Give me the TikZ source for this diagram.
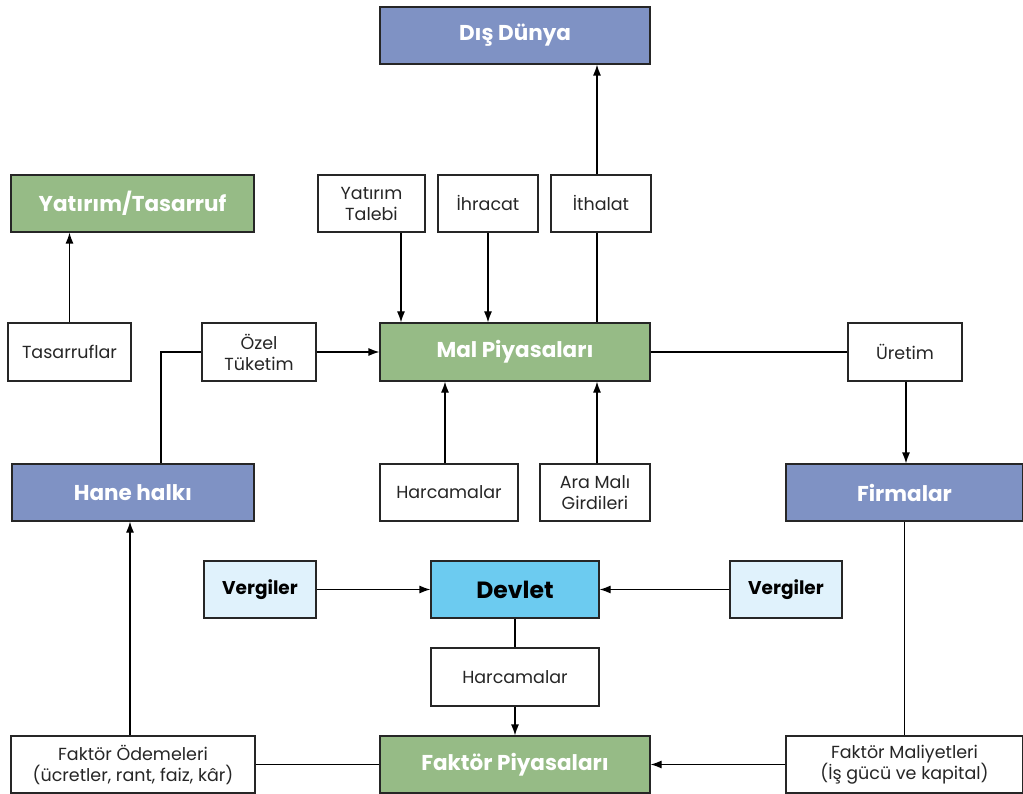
\documentclass[tikz,border=0pt]{standalone}
\usepackage{fontspec}
\setmainfont{Poppins}
\usetikzlibrary{arrows.meta,calc}
\definecolor{cblue}{RGB}{127,146,196}
\definecolor{cgreen}{RGB}{150,187,134}
\definecolor{cdev}{RGB}{108,203,240}
\definecolor{cverg}{RGB}{224,242,252}
\begin{document}
\begin{tikzpicture}[x=1pt,y=-1pt,
  base/.style={draw=black!85,line width=1.2pt,inner sep=2pt,align=center},
  wbox/.style={base,fill=white,font=\fontsize{17.5}{21}\selectfont,text=black!85},
  gbox/.style={base,fill=cgreen,text=white,font=\fontsize{21.5}{25}\selectfont\bfseries},
  bbox/.style={base,fill=cblue,text=white,font=\fontsize{21.5}{25}\selectfont\bfseries},
  vbox/.style={base,fill=cverg,text=black,font=\fontsize{18.5}{22}\selectfont\bfseries},
  dbox/.style={base,fill=cdev,text=black,font=\fontsize{23.5}{27}\selectfont\bfseries},
  sz/.style 2 args={minimum width=#1pt,minimum height=#2pt},
  conn/.style={line width=1.2pt,draw=black},
  arr/.style={conn,-{Latex[length=11pt,width=8pt]}}]
\useasboundingbox[fill=white] (0,0) rectangle (1023,794);
% nodes
\node[bbox,sz={270}{57}] (dis) at (515,35.5) {Dış Dünya};
\node[gbox,sz={243}{57}] (yat) at (132.5,203.5) {Yatırım/Tasarruf};
\node[wbox,sz={107}{57}] (ytal) at (371.5,203.5) {Yatırım\\Talebi};
\node[wbox,sz={100}{57}] (ihr) at (488,203.5) {İhracat};
\node[wbox,sz={100}{57}] (ith) at (601,203.5) {İthalat};
\node[wbox,sz={123}{58}] (tas) at (69.5,352) {Tasarruflar};
\node[wbox,sz={114}{58}] (ozel) at (259,352) {Özel\\Tüketim};
\node[gbox,sz={270}{58}] (mal) at (515,352) {Mal Piyasaları};
\node[wbox,sz={114}{58}] (ure) at (905,352) {Üretim};
\node[bbox,sz={242}{57}] (hane) at (133,492.5) {Hane halkı};
\node[wbox,sz={138}{57}] (harc1) at (449,492.5) {Harcamalar};
\node[wbox,sz={110}{57}] (ara) at (595,492.5) {Ara Malı\\Girdileri};
\node[bbox,sz={237}{57}] (firm) at (904.5,492.5) {Firmalar};
\node[vbox,sz={112}{57}] (verL) at (260,589.5) {Vergiler};
\node[dbox,sz={168}{57}] (dev) at (515,589.5) {Devlet};
\node[vbox,sz={112}{57}] (verR) at (786,589.5) {Vergiler};
\node[wbox,sz={168}{58}] (harc2) at (515,677) {Harcamalar};
\node[wbox,sz={244}{57}] (fod) at (133,764.5) {Faktör Ödemeleri\\(ücretler, rant, faiz, kâr)};
\node[gbox,sz={270}{57}] (fpiy) at (515,764.5) {Faktör Piyasaları};
\node[wbox,sz={237}{57}] (fmal) at (904.5,764.5) {Faktör Maliyetleri\\(İş gücü ve kapital)};
% connectors
\draw[arr] (tas.north) -- (tas.north |- yat.south);
\draw[conn] ([xshift=28pt]hane.north) |- (ozel.west);
\draw[arr] (ozel.east) -- (mal.west);
\draw[arr] ([xshift=29.5pt]ytal.south) -- ([xshift=29.5pt]ytal.south |- mal.north);
\draw[arr] (ihr.south) -- (ihr.south |- mal.north);
\draw[conn] ([xshift=-4pt]ith.south |- mal.north) -- ([xshift=-4pt]ith.south);
\draw[arr] ([xshift=-4pt]ith.north) -- ([xshift=-4pt]ith.north |- dis.south);
\draw[conn] (mal.east) -- (ure.west);
\draw[arr] ([xshift=1pt]ure.south) -- ([xshift=1pt]ure.south |- firm.north);
\draw[arr] ([xshift=-4pt]harc1.north) -- ([xshift=-4pt]harc1.north |- mal.south);
\draw[arr] ([xshift=2pt]ara.north) -- ([xshift=2pt]ara.north |- mal.south);
\draw[arr] ([xshift=-3pt]fod.north) -- ([xshift=-3pt]fod.north |- hane.south);
\draw[conn] (fod.east) -- (fpiy.west);
\draw[arr] (verL.east) -- (dev.west);
\draw[arr] (verR.west) -- (dev.east);
\draw[conn] (dev.south) -- (harc2.north);
\draw[arr] (harc2.south) -- (fpiy.north);
\draw[conn] (firm.south) -- (fmal.north);
\draw[arr] (fmal.west) -- (fpiy.east);
\end{tikzpicture}
\end{document}
